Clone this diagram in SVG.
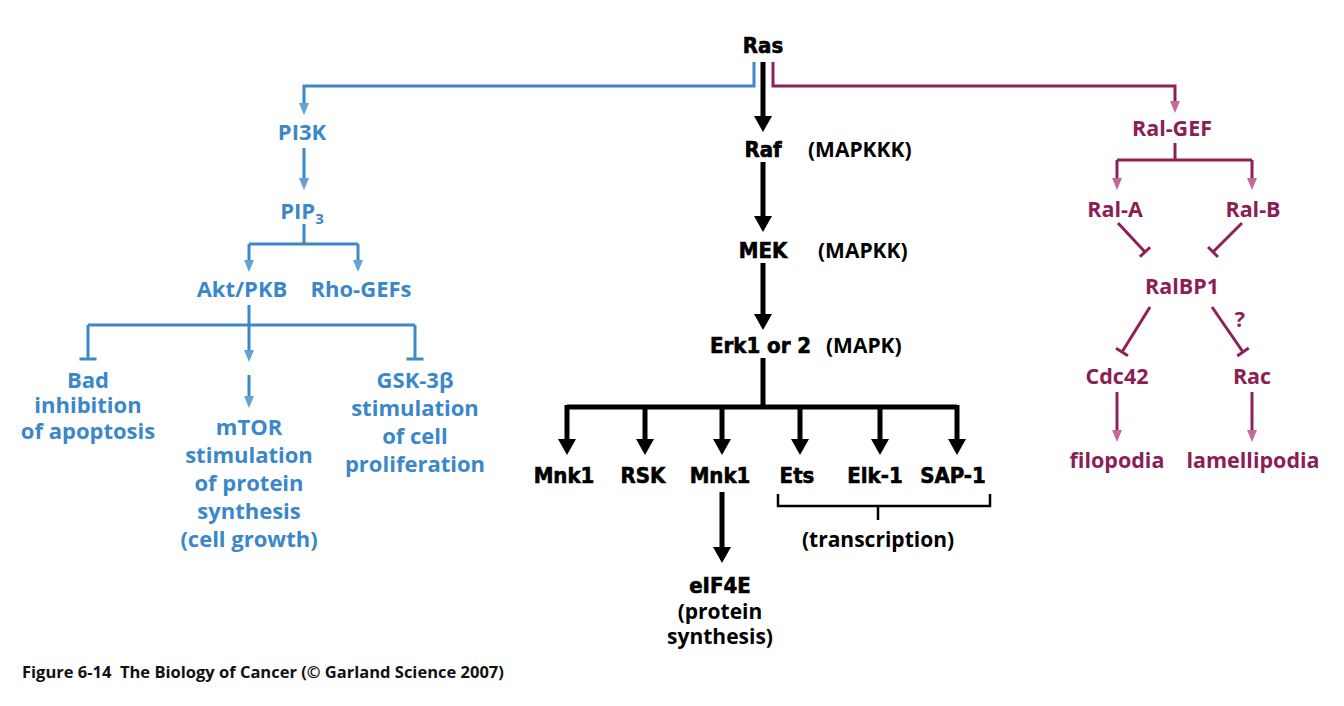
<svg xmlns="http://www.w3.org/2000/svg" width="1344" height="706" viewBox="0 0 1344 706">
<style>
.bt{font-family:"Open Sans","Noto Sans",sans-serif;font-weight:bold;font-size:22px;fill:#3a87c9;text-anchor:middle}
.pt{font-family:"Open Sans","Noto Sans",sans-serif;font-weight:bold;font-size:21.5px;fill:#8c1d55;text-anchor:middle}
.kt{font-family:"DejaVu Sans",sans-serif;font-stretch:condensed;font-weight:bold;font-size:22px;fill:#000;text-anchor:middle;stroke:#000;stroke-width:0.6}
.kp{font-family:"Open Sans","Noto Sans",sans-serif;font-weight:bold;font-size:21px;fill:#000}
.bl{fill:none;stroke:#3d88c9;stroke-width:3}
.pl{fill:none;stroke:#8e2059;stroke-width:3}
.kl{fill:none;stroke:#000;stroke-width:5}
.cap{font-family:"Open Sans","Noto Sans",sans-serif;font-weight:bold;font-size:16.5px;fill:#111;white-space:pre}
</style>
<defs>
<marker id="ab" viewBox="0 0 12 10" markerWidth="12" markerHeight="10" refX="6" refY="5" orient="auto" markerUnits="userSpaceOnUse"><path d="M0,0 L12,5 L0,10 z" fill="#62a2db"/></marker>
<marker id="ap" viewBox="0 0 12 10" markerWidth="12" markerHeight="10" refX="6" refY="5" orient="auto" markerUnits="userSpaceOnUse"><path d="M0,0 L12,5 L0,10 z" fill="#c4699a"/></marker>
<marker id="ak" viewBox="0 0 16 18" markerWidth="16" markerHeight="18" refX="8" refY="9" orient="auto" markerUnits="userSpaceOnUse"><path d="M0,0 L16,9 L0,18 z" fill="#000"/></marker>
<marker id="tb" viewBox="-2 -9 4 18" markerWidth="4" markerHeight="18" refX="0" refY="0" orient="auto" markerUnits="userSpaceOnUse"><path d="M0,-8.5 L0,8.5" stroke="#3d88c9" stroke-width="3"/></marker>
<marker id="tp" viewBox="-2 -9 4 18" markerWidth="4" markerHeight="18" refX="0" refY="0" orient="auto" markerUnits="userSpaceOnUse"><path d="M0,-7 L0,7" stroke="#8e2059" stroke-width="3"/></marker>
</defs>
<g id="connectors">
<g id="blue-links">
<path class="bl" d="M754,62 V86 H304 V109" marker-end="url(#ab)"/>
<path class="bl" d="M304,148 V184" marker-end="url(#ab)"/>
<path class="bl" d="M304,224 V244"/>
<path class="bl" d="M249,244 H358"/>
<path class="bl" d="M249,244 V266" marker-end="url(#ab)"/>
<path class="bl" d="M358,244 V266" marker-end="url(#ab)"/>
<path class="bl" d="M249,305 V325"/>
<path class="bl" d="M88,325 H415"/>
<path class="bl" d="M88,325 V359" marker-end="url(#tb)"/>
<path class="bl" d="M415,325 V359" marker-end="url(#tb)"/>
<path class="bl" d="M249,325 V356" marker-end="url(#ab)"/>
<path class="bl" d="M249,375 V402" marker-end="url(#ab)"/>
</g>
<g id="black-links">
<path class="kl" d="M763,62 V124" marker-end="url(#ak)"/>
<path class="kl" d="M763,162 V224" marker-end="url(#ak)"/>
<path class="kl" d="M763,263 V322" marker-end="url(#ak)"/>
<path class="kl" d="M763,358 V407"/>
<path class="kl" d="M567,407 H957"/>
<path class="kl" d="M567,405 V447" marker-end="url(#ak)"/>
<path class="kl" d="M645,407 V447" marker-end="url(#ak)"/>
<path class="kl" d="M722,407 V447" marker-end="url(#ak)"/>
<path class="kl" d="M800,407 V447" marker-end="url(#ak)"/>
<path class="kl" d="M880,407 V447" marker-end="url(#ak)"/>
<path class="kl" d="M957,405 V447" marker-end="url(#ak)"/>
<path class="kl" d="M722,492 V555" marker-end="url(#ak)"/>
<path d="M778,494 V506 H990 V494 M878,506 V520" fill="none" stroke="#000" stroke-width="2.5"/>
</g>
<g id="purple-links">
<path class="pl" d="M773,62 V86 H1175 V107" marker-end="url(#ap)"/>
<path class="pl" d="M1175,143 V160"/>
<path class="pl" d="M1117,160 H1252"/>
<path class="pl" d="M1117,160 V184" marker-end="url(#ap)"/>
<path class="pl" d="M1252,160 V184" marker-end="url(#ap)"/>
<path class="pl" d="M1118,223 L1145,252" marker-end="url(#tp)"/>
<path class="pl" d="M1242,223 L1213,252" marker-end="url(#tp)"/>
<path class="pl" d="M1150,307 L1122,352" marker-end="url(#tp)"/>
<path class="pl" d="M1212,307 L1243,352" marker-end="url(#tp)"/>
<path class="pl" d="M1117,392 V436" marker-end="url(#ap)"/>
<path class="pl" d="M1252,392 V436" marker-end="url(#ap)"/>
</g>
</g>
<g id="n-ras"><text class="kt" x="763" y="53">Ras</text></g>
<g id="n-pi3k"><text class="bt" x="302" y="140">PI3K</text></g>
<g id="n-pip3"><text class="bt" x="302" y="219">PIP<tspan font-size="15" dy="5">3</tspan></text></g>
<g id="n-akt"><text class="bt" x="242" y="297">Akt/PKB</text></g>
<g id="n-rhogef"><text class="bt" x="361" y="297">Rho-GEFs</text></g>
<g id="n-bad"><text class="bt" x="88" y="388">Bad<tspan x="88" y="413">inhibition</tspan><tspan x="88" y="439">of apoptosis</tspan></text></g>
<g id="n-mtor"><text class="bt" x="249" y="435">mTOR<tspan x="249" y="463">stimulation</tspan><tspan x="249" y="491">of protein</tspan><tspan x="249" y="519">synthesis</tspan><tspan x="249" y="547">(cell growth)</tspan></text></g>
<g id="n-gsk"><text class="bt" x="415" y="388">GSK-3β<tspan x="415" y="416">stimulation</tspan><tspan x="415" y="444">of cell</tspan><tspan x="415" y="472">proliferation</tspan></text></g>
<g id="n-raf"><text class="kt" x="763" y="157">Raf</text><text class="kp" x="808" y="157">(MAPKKK)</text></g>
<g id="n-mek"><text class="kt" x="763" y="258">MEK</text><text class="kp" x="818" y="258">(MAPKK)</text></g>
<g id="n-erk"><text class="kt" x="710" y="353" style="text-anchor:start">Erk1 or 2</text><text class="kp" x="826" y="353">(MAPK)</text></g>
<g id="n-mnk1a"><text class="kt" x="564" y="483">Mnk1</text></g>
<g id="n-rsk"><text class="kt" x="643" y="483">RSK</text></g>
<g id="n-mnk1b"><text class="kt" x="720" y="483">Mnk1</text></g>
<g id="n-ets"><text class="kt" x="797" y="483">Ets</text></g>
<g id="n-elk1"><text class="kt" x="875" y="483">Elk-1</text></g>
<g id="n-sap1"><text class="kt" x="953" y="483">SAP-1</text></g>
<g id="n-eif4e"><text class="kt" x="720" y="593">eIF4E</text><text class="kp" x="720" y="619" style="text-anchor:middle">(protein<tspan x="720" y="644">synthesis)</tspan></text></g>
<g id="n-transcription"><text class="kp" x="878" y="547" style="text-anchor:middle">(transcription)</text></g>
<g id="n-ralgef"><text class="pt" x="1172" y="136">Ral-GEF</text></g>
<g id="n-rala"><text class="pt" x="1115" y="217">Ral-A</text></g>
<g id="n-ralb"><text class="pt" x="1253" y="217">Ral-B</text></g>
<g id="n-ralbp1"><text class="pt" x="1182" y="294">RalBP1</text></g>
<g id="n-q"><text class="pt" x="1240" y="327" font-size="17">?</text></g>
<g id="n-cdc42"><text class="pt" x="1117" y="384">Cdc42</text></g>
<g id="n-rac"><text class="pt" x="1252" y="384">Rac</text></g>
<g id="n-filo"><text class="pt" x="1117" y="468">filopodia</text></g>
<g id="n-lamelli"><text class="pt" x="1253" y="468">lamellipodia</text></g>
<g id="caption"><text class="cap" x="22" y="678" xml:space="preserve">Figure 6-14  The Biology of Cancer (© Garland Science 2007)</text></g>
</svg>
